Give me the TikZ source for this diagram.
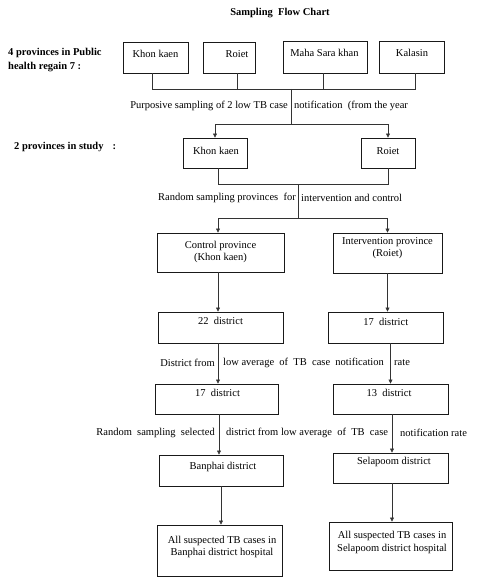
\documentclass[tikz,border=0pt]{standalone}
\usepackage{fontspec}
\setmainfont{Liberation Serif}
\usetikzlibrary{arrows.meta,fit}
\begin{document}
\begin{tikzpicture}[x=1pt,y=-1pt,
  box/.style={draw=black!90, line width=0.9pt, inner sep=0pt, fit={#1}},
  txt/.style={font=\fontsize{10.5}{12.5}\selectfont, inner sep=0pt, align=center},
  txtb/.style={font=\bfseries\fontsize{10.5}{13.5}\selectfont, inner sep=0pt},
  conn/.style={draw=black!80, line width=0.6pt},
  arr/.style={conn, -{Triangle[length=4pt,width=4pt]}}]
\useasboundingbox (0,0) rectangle (478,583);

% headings
\node[txtb] (title) at (280,13) {Sampling\ \ Flow Chart};
\node[txtb, anchor=west, align=left] (lab1) at (8,60) {4 provinces in Public\\health regain 7 :};
\node[txtb, anchor=west] (lab2) at (14,147) {2 provinces in study\hspace{9pt}:};

% boxes
\node[box={(123,42) (188,73)}] (b1) {};
\node[box={(203,42) (255,73)}] (b2) {};
\node[box={(283,41) (367,73)}] (b3) {};
\node[box={(379,41) (444,73)}] (b4) {};
\node[box={(183,138) (247,168)}] (k2) {};
\node[box={(361,138) (415,168)}] (r2) {};
\node[box={(157,233) (284,272)}] (cp) {};
\node[box={(333,233) (442,273)}] (ip) {};
\node[box={(158,312) (283,343)}] (d22) {};
\node[box={(328,312) (443,343)}] (d17r) {};
\node[box={(155,384) (278,414)}] (d17l) {};
\node[box={(333,384) (448,414)}] (d13) {};
\node[box={(159,455) (283,486)}] (bp) {};
\node[box={(333,453) (448,483)}] (sp) {};
\node[box={(157,525) (282,576)}] (ab) {};
\node[box={(329,522) (452,570)}] (as) {};

% box texts
\node[txt] (t1) at (155.5,54) {Khon kaen};
\node[txt] (t2) at (237,54) {Roiet};
\node[txt] (t3) at (324.5,53) {Maha Sara khan};
\node[txt] (t4) at (412,53) {Kalasin};
\node[txt] (tk2) at (216,151) {Khon kaen};
\node[txt] (tr2) at (388,151) {Roiet};
\node[txt] (tcp) at (220.5,252) {Control province\\(Khon kaen)};
\node[txt] (tip) at (387.5,248) {Intervention province\\(Roiet)};
\node[txt] (td22) at (220.5,321) {22\ \ district};
\node[txt] (td17r) at (385.7,322) {17\ \ district};
\node[txt] (td17l) at (217.5,393) {17\ \ district};
\node[txt] (td13) at (389,393) {13\ \ district};
\node[txt] (tbp) at (223,467) {Banphai district};
\node[txt] (tsp) at (394,462) {Selapoom district};
\node[txt] (tab) at (222,547) {All suspected TB cases in\\Banphai district hospital};
\node[txt] (tas) at (392,542.5) {All suspected TB cases in\\Selapoom district hospital};

% connector labels
\node[txt, anchor=east] (p1a) at (288,106) {Purposive sampling of 2 low TB case};
\node[txt, anchor=west] (p1b) at (294,106) {notification\ \ (from the year};
\node[txt, anchor=east] (p2a) at (296,198) {Random sampling provinces\ \ for};
\node[txt, anchor=west] (p2b) at (301,198) {intervention and control};
\node[txt, anchor=east] (p3a) at (215,363) {District from};
\node[txt, anchor=west] (p3b) at (223,363) {low average\ \ of\ \ TB\ \ case\ \ notification};
\node[txt, anchor=west] (p3c) at (394,363) {rate};
\node[txt, anchor=east] (p4a) at (215,433) {Random\ \ sampling\ \ selected};
\node[txt, anchor=west] (p4b) at (226,433) {district from low average\ \ of\ \ TB\ \ case};
\node[txt, anchor=west] (p4c) at (400,433) {notification rate};

% connectors
\coordinate (m1) at (291,89);
\coordinate (m2) at (291,124);
\coordinate (m3) at (298,184);
\coordinate (m4) at (298,218);

\draw[conn] ([xshift=-3.5pt]b1.south) |- (m1);
\draw[conn] ([xshift=8pt]b2.south) |- (m1);
\draw[conn] ([xshift=-2pt]b3.south) |- (m1);
\draw[conn] ([xshift=3.5pt]b4.south) |- (m1);
\draw[conn] (m1) -- (m2);
\draw[arr] (m2) -| (k2.north);
\draw[arr] (m2) -| (r2.north);

\draw[conn] ([xshift=3pt]k2.south) |- (m3);
\draw[conn] (r2.south) |- (m3);
\draw[conn] (m3) -- (m4);
\draw[arr] (m4) -| ([xshift=-2.5pt]cp.north);
\draw[arr] (m4) -| (ip.north);

\draw[arr] ([xshift=-2.5pt]cp.south) -- ([xshift=-2.5pt]cp.south |- d22.north);
\draw[arr] (ip.south) -- (ip.south |- d17r.north);
\draw[arr] ([xshift=-2.5pt]d22.south) -- ([xshift=-2.5pt]d22.south |- d17l.north);
\draw[arr] (d13.north |- d17r.south) -- (d13.north);
\draw[arr] ([xshift=2.5pt]d17l.south) -- ([xshift=2.5pt]d17l.south |- bp.north);
\draw[arr] ([xshift=1.5pt]d13.south) -- ([xshift=1.5pt]d13.south |- sp.north);
\draw[arr] (bp.south) -- (bp.south |- ab.north);
\draw[arr] ([xshift=1.5pt]sp.south) -- ([xshift=1.5pt]sp.south |- as.north);
\end{tikzpicture}
\end{document}
